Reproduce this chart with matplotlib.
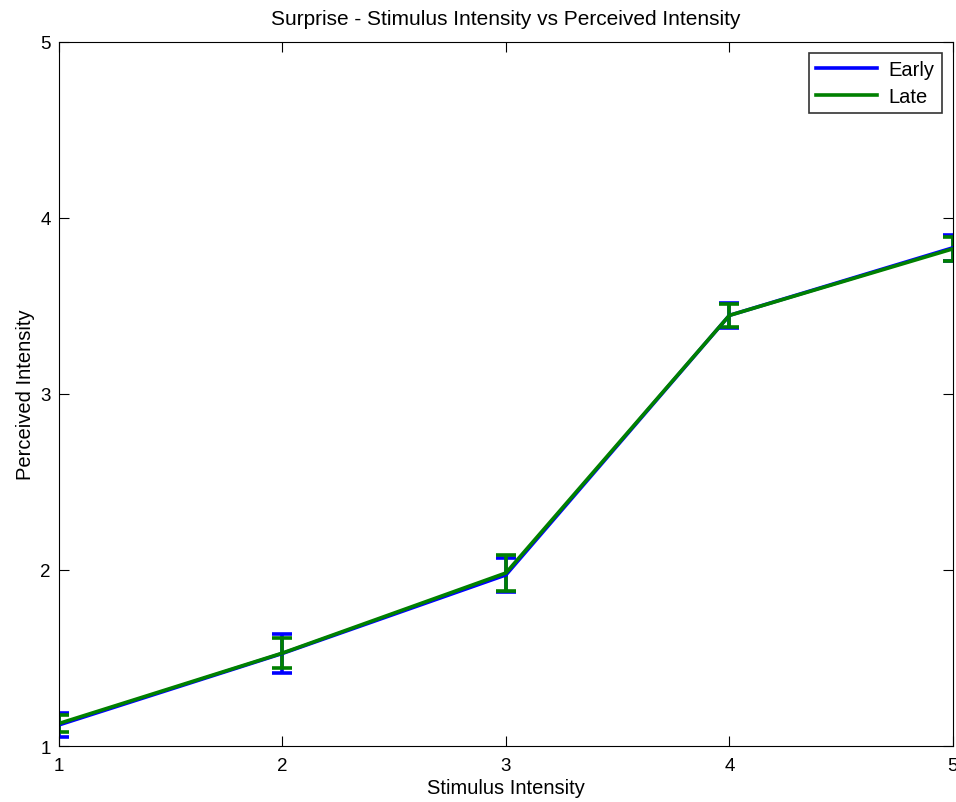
import numpy as np
import matplotlib
matplotlib.use('Agg')
from matplotlib import pyplot as plt
from matplotlib.lines import Line2D

plt.rcParams['font.family'] = ['Liberation Sans', 'DejaVu Sans']

## data
stim = [1, 2, 3, 4, 5]
early_mean = [1.12, 1.526, 1.972, 3.446, 3.83]
early_err = [0.07, 0.111, 0.097, 0.071, 0.074]
late_mean = [1.128, 1.528, 1.983, 3.446, 3.824]
late_err = [0.048, 0.085, 0.102, 0.065, 0.068]

fig = plt.figure(figsize=(9.56, 8.03), dpi=100)
ax = fig.add_axes([0.0617, 0.0697, 0.935, 0.877])

ax.errorbar(stim, early_mean, yerr=early_err, color='#0000ff', linewidth=2.6,
            elinewidth=2.6, capsize=7, capthick=2.6)
ax.errorbar(stim, late_mean, yerr=late_err, color='#008000', linewidth=2.6,
            elinewidth=2.6, capsize=7, capthick=2.6)

ax.set_xlim(1, 5)
ax.set_ylim(1, 5)
ax.set_xticks(stim)
ax.set_yticks([1, 2, 3, 4, 5])
ax.tick_params(direction='in', top=True, right=True, length=7, labelsize=13.5)
ax.tick_params(axis='x', pad=8)
ax.tick_params(axis='y', pad=6)
ax.set_xlabel('Stimulus Intensity', fontsize=14.5, labelpad=3)
ax.set_ylabel('Perceived Intensity', fontsize=14.5, labelpad=4)
ax.set_title('Surprise - Stimulus Intensity vs Perceived Intensity', fontsize=15, pad=13)

handles = [Line2D([], [], color='#0000ff', linewidth=2.6),
           Line2D([], [], color='#008000', linewidth=2.6)]
leg = ax.legend(handles, ['Early', 'Late'], loc='upper right', fontsize=14.5,
                fancybox=False, edgecolor='#333333', handlelength=3.0,
                borderaxespad=0.55, framealpha=1, labelspacing=0.4,
                borderpad=0.35, handletextpad=0.6)
leg.get_frame().set_linewidth(1.2)

fig.savefig('out.png', dpi=100)
